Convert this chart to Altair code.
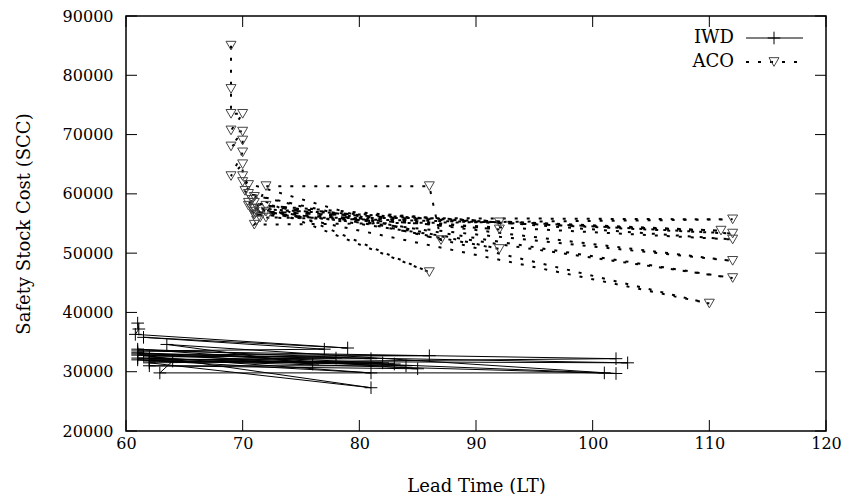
import altair as alt
import pandas as pd

# ---- data ----
series_names = ["IWD", "ACO"]

iwd_x = [61.0, 61.1, 60.8, 79.0, 61.5, 77.0, 61.0, 102.0, 62.0, 81.0, 61.5, 101.0,
         62.9, 64.0, 103.0, 61.0, 86.0, 62.0, 81.0, 61.0, 102.0, 63.5, 76.0, 61.0,
         82.0, 62.0, 83.0, 61.0, 84.0, 62.0, 85.0, 61.0, 81.0, 62.0, 78.0, 61.0]
iwd_y = [38200, 37200, 36300, 34000, 35800, 33800, 33500, 32200, 31500, 27300, 32800, 29800,
         29800, 31800, 31500, 33000, 32700, 32500, 29800, 32000, 29700, 34600, 31300, 33200,
         31500, 31800, 31300, 32300, 31000, 31000, 30500, 33800, 32200, 32000, 32300, 32800]

aco_x = [69.0, 69.0, 69.0, 70.0, 69.0, 70.0, 69.0, 70.0, 70.0, 69.0, 70.0, 70.0, 70.5,
         70.2, 70.8, 70.5, 71.0,
         72.0, 86.0, 87.0, 70.0, 71.0, 86.0, 71.0, 92.0, 70.5, 110.0, 71.0, 112.0, 70.5,
         112.0, 71.0, 92.0, 72.0, 112.0, 71.0, 111.0, 72.0, 112.0, 71.0, 92.0, 72.0, 112.0,
         71.0, 71.5, 70.8, 71.2]
aco_y = [85000, 77700, 73500, 73500, 70700, 70500, 68000, 69000, 67000, 63000, 65000, 63000, 61500,
         60500, 59000, 58000, 56500,
         61300, 61300, 52200, 62000, 59500, 46800, 58500, 50700, 60000, 41500, 57500, 45800, 58500,
         48700, 57000, 54000, 58000, 52300, 56500, 53800, 57000, 53300, 57500, 55200, 56000, 55700,
         54800, 56000, 57500, 55500]

x_ticks = [60, 70, 80, 90, 100, 110, 120]
y_ticks = [20000, 30000, 40000, 50000, 60000, 70000, 80000, 90000]

# ---- layout / style ----
W, H = 700, 415
FONT = "DejaVu Serif"
TICK = 11
CROSS = "M-1,0L1,0M0,-1L0,1"

iwd = pd.DataFrame({"x": iwd_x, "y": iwd_y, "i": range(len(iwd_x))})
aco = pd.DataFrame({"x": aco_x, "y": aco_y, "i": range(len(aco_x))})
xt = pd.DataFrame({"x": x_ticks})
yt = pd.DataFrame({"y": y_ticks})

xs = alt.Scale(domain=[60, 120], nice=False, zero=False)
ys = alt.Scale(domain=[20000, 90000], nice=False, zero=False)

x_axis = alt.Axis(values=x_ticks, tickSize=0, domain=False, grid=False, labelFlush=False,
                  labelFont=FONT, labelFontSize=16, labelColor="black", labelPadding=4,
                  title="Lead Time (LT)", titleFont=FONT, titleFontSize=18,
                  titleFontWeight="normal", titleColor="black", titlePadding=26)
y_axis = alt.Axis(values=y_ticks, tickSize=0, domain=False, grid=False, format="d",
                  labelFlush=False,
                  labelFont=FONT, labelFontSize=16, labelColor="black", labelPadding=13,
                  title="Safety Stock Cost (SCC)", titleFont=FONT, titleFontSize=18,
                  titleFontWeight="normal", titleColor="black", titlePadding=29)

X = alt.X("x:Q", scale=xs, axis=x_axis)
Y = alt.Y("y:Q", scale=ys, axis=y_axis)

iwd_line = alt.Chart(iwd).mark_line(color="black", strokeWidth=1).encode(x=X, y=Y, order="i:Q")
iwd_pts = alt.Chart(iwd).mark_point(shape=CROSS, size=160, color="black",
                                    strokeWidth=1, filled=False, opacity=1).encode(x=X, y=Y)
aco_line = alt.Chart(aco).mark_line(color="black", strokeWidth=2, strokeDash=[3, 9]).encode(
    x=X, y=Y, order="i:Q")
aco_pts = alt.Chart(aco).mark_point(shape="triangle-down", size=100, color="#444",
                                    strokeWidth=1, filled=False, opacity=1).encode(x=X, y=Y)

# inward ticks on all four sides
tb = alt.Chart(xt).mark_rule(color="black", strokeWidth=1).encode(
    x=X, y=alt.value(H), y2=alt.value(H - TICK))
tt = alt.Chart(xt).mark_rule(color="black", strokeWidth=1).encode(
    x=X, y=alt.value(0), y2=alt.value(TICK))
tl = alt.Chart(yt).mark_rule(color="black", strokeWidth=1).encode(
    y=Y, x=alt.value(0), x2=alt.value(TICK))
tr = alt.Chart(yt).mark_rule(color="black", strokeWidth=1).encode(
    y=Y, x=alt.value(W), x2=alt.value(W - TICK))

# legend (gnuplot style: label left, sample right)
one = pd.DataFrame({"a": [0]})
LX_TXT, LX0, LX1, LXM = 608, 620, 677, 648
LY1, LY2 = 22, 46
leg = [
    alt.Chart(one).mark_text(align="right", baseline="middle", font=FONT, fontSize=18,
                             color="black", text=series_names[0]).encode(
        x=alt.value(LX_TXT), y=alt.value(LY1)),
    alt.Chart(one).mark_rule(color="black", strokeWidth=1).encode(
        x=alt.value(LX0), x2=alt.value(LX1), y=alt.value(LY1)),
    alt.Chart(one).mark_point(shape=CROSS, size=160, color="black", strokeWidth=1,
                              filled=False, opacity=1).encode(
        x=alt.value(LXM), y=alt.value(LY1)),
    alt.Chart(one).mark_text(align="right", baseline="middle", font=FONT, fontSize=18,
                             color="black", text=series_names[1]).encode(
        x=alt.value(LX_TXT), y=alt.value(LY2)),
    alt.Chart(one).mark_rule(color="black", strokeWidth=2, strokeDash=[3, 9]).encode(
        x=alt.value(LX0), x2=alt.value(LX1), y=alt.value(LY2)),
    alt.Chart(one).mark_point(shape="triangle-down", size=100, color="#444", strokeWidth=1,
                              filled=False, opacity=1).encode(
        x=alt.value(LXM), y=alt.value(LY2)),
]

chart = alt.layer(iwd_line, iwd_pts, aco_line, aco_pts, tb, tt, tl, tr, *leg).properties(
    width=W, height=H,
    autosize=alt.AutoSizeParams(type="none"),
    padding={"left": 118, "top": 8, "right": 28, "bottom": 63},
    background="white",
).configure_view(stroke="black", strokeWidth=1.5)

chart.save("out.html", embed_options={"renderer": "svg", "actions": False})
